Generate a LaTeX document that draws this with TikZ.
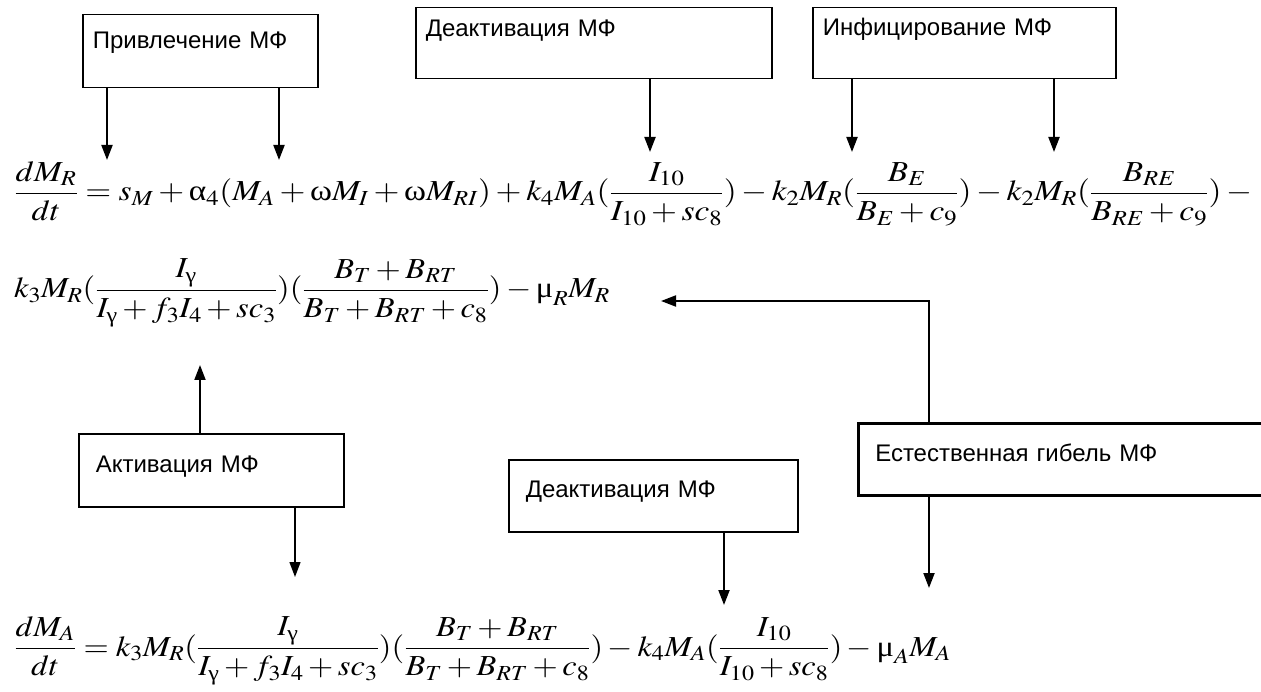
\documentclass[tikz,border=0pt]{standalone}
\usepackage{amsmath}
\usepackage{mathptmx}
\usepackage[no-math]{fontspec}
\setmainfont{Liberation Serif}
\newfontfamily\boxfont{Liberation Sans}
\usetikzlibrary{shapes.geometric, arrows, arrows.meta}
\tikzstyle{box} = [rectangle, draw=black, line width=1.5pt,
  anchor=north west, minimum height=73pt, inner xsep=10pt, inner ysep=0pt,
  text height=17pt, text depth=14pt, align=left,
  font=\boxfont\fontsize{24}{27}\selectfont]
\tikzstyle{eqn} = [anchor=base west, inner sep=0pt,
  font=\fontsize{29}{34}\selectfont]
\tikzstyle{arrow} = [line width=2pt,-{Triangle[length=15pt,width=11pt]}]
\newcommand{\gralpha}{\textup{α}}
\newcommand{\gromega}{\textup{ω}}
\newcommand{\grmu}{\textup{μ}}
\newcommand{\grgamma}{\textup{γ}}
\newcommand{\eqwide}[2][1.15]{\scalebox{#1}[1]{$\displaystyle #2$}}

\begin{document}
\begin{tikzpicture}[x=1pt, y=-1pt]
\useasboundingbox (0,0) rectangle (1261,692);

%% nodes
\node (attract) [box, text width=215pt, text depth=23pt] at (82,14) {Привлечение МФ};
\node (deactTop) [box, text width=336pt, minimum height=71pt, text depth=31pt] at (415,7) {Деактивация МФ};
\node (infect) [box, text width=283pt, minimum height=71pt, text depth=33pt] at (812,7) {Инфицирование МФ};
\node (activ) [box, inner xsep=17pt, text width=231pt, text depth=12pt] at (78,433) {Активация МФ};
\node (deactBot) [box, inner xsep=17pt, text width=255pt, minimum height=72pt, text depth=13pt] at (508,459) {Деактивация МФ};
\node (death) [box, line width=2.5pt, inner xsep=17pt, text width=386pt, minimum height=72pt, text depth=13pt] at (857,422) {Естественная гибель МФ};

\node (eqR) [eqn] at (14,201) {\eqwide{\frac{dM_R}{dt} = s_M + \gralpha_4(M_A + \gromega M_I + \gromega M_{RI}) + k_4M_A(\frac{I_{10}}{I_{10} + sc_8}) - k_2M_R(\frac{B_E}{B_E + c_9}) - k_2M_R(\frac{B_{RE}}{B_{RE} + c_9}) -{}}};
\node (eqRnext) [eqn] at (14,298) {\eqwide[1.12]{k_3M_R(\frac{I_{\grgamma}}{I_{\grgamma} + f_3I_4 + sc_3})(\frac{B_T + B_{RT}}{B_T + B_{RT} + c_8}) - \grmu_RM_R}};
\node (eqA) [eqn] at (14,656) {\eqwide[1.12]{\frac{dM_A}{dt} = k_3M_R(\frac{I_{\grgamma}}{I_{\grgamma} + f_3I_4 + sc_3})(\frac{B_T + B_{RT}}{B_T + B_{RT} + c_8}) - k_4M_A(\frac{I_{10}}{I_{10} + sc_8}) - \grmu_AM_A}};

\coordinate (sM) at (107,160);
\coordinate (omegaMI) at (279,160);
\coordinate (Iten) at (650,152);
\coordinate (BE) at (852,152);
\coordinate (BRE) at (1054,152);
\coordinate (muR) at (661,301);
\coordinate (gammaR) at (200,365);
\coordinate (kthree) at (295,577);
\coordinate (kfour) at (724,605);
\coordinate (muA) at (929,588);

%% paths
\draw [arrow] (attract.south -| sM) -- (sM);
\draw [arrow] (attract.south -| omegaMI) -- (omegaMI);
\draw [arrow] (deactTop.south -| Iten) -- (Iten);
\draw [arrow] (infect.south -| BE) -- (BE);
\draw [arrow] (infect.south -| BRE) -- (BRE);
\draw [arrow] (activ.north -| gammaR) -- (gammaR);
\draw [arrow, line width=1.3pt] (activ.south -| kthree) -- (kthree);
\draw [arrow] (deactBot.south -| kfour) -- (kfour);
\draw [arrow] (death.north -| muA) |- (muR);
\draw [arrow] (death.south -| muA) -- (muA);

\end{tikzpicture}
\end{document}
